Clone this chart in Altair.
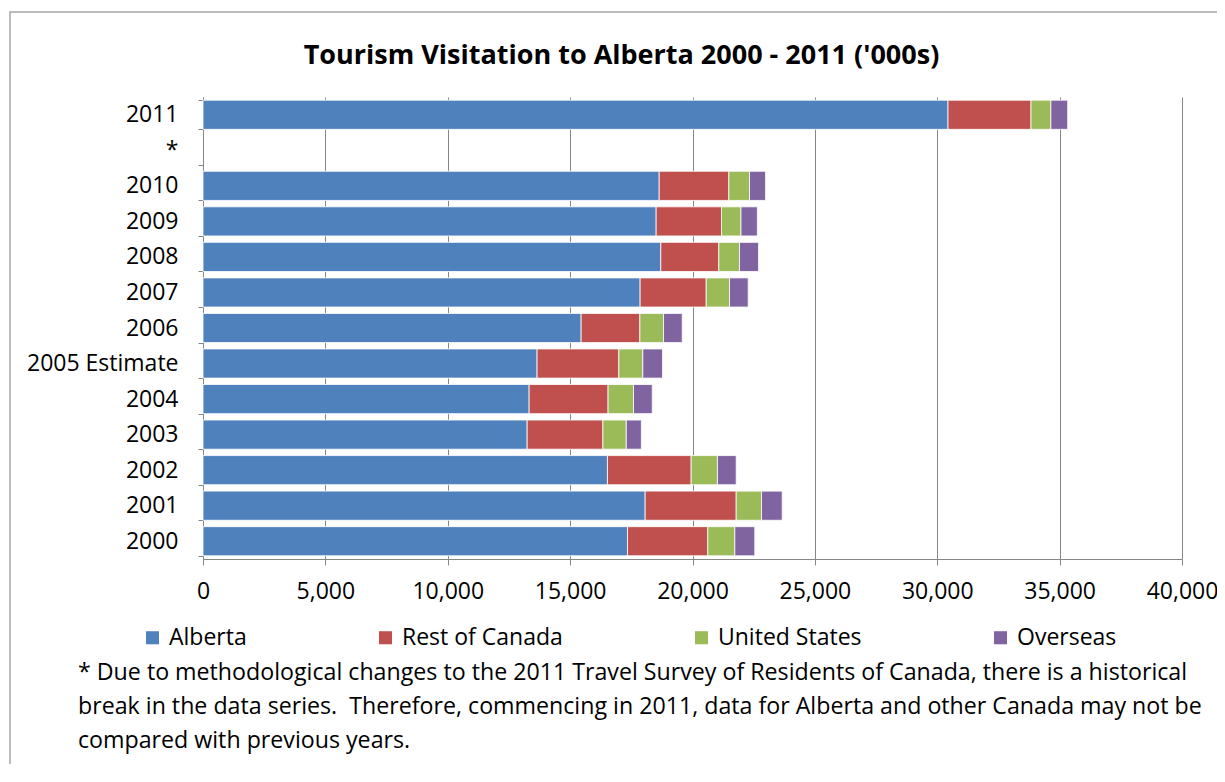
import altair as alt
import pandas as pd

categories = ["2011", "*", "2010", "2009", "2008", "2007", "2006",
              "2005 Estimate", "2004", "2003", "2002", "2001", "2000"]
series = ["Alberta", "Rest of Canada", "United States", "Overseas"]
alberta = [30440, None, 18640, 18515, 18705, 17860, 15450, 13650, 13325, 13245, 16525, 18065, 17345]
rest_of_canada = [3390, None, 2845, 2670, 2370, 2700, 2400, 3340, 3225, 3095, 3420, 3720, 3280]
united_states = [813, None, 845, 795, 845, 953, 967, 980, 1040, 955, 1075, 1035, 1105]
overseas = [687, None, 655, 670, 777, 763, 763, 805, 765, 615, 765, 845, 815]
colors = ["#4F81BD", "#C0504D", "#9BBB59", "#8064A2"]
x_ticks = [0, 5000, 10000, 15000, 20000, 25000, 30000, 35000, 40000]

title_text = "Tourism Visitation to Alberta 2000 - 2011 ('000s)"
footnote = ("* Due to methodological changes to the 2011 Travel Survey of Residents of Canada, there is a historical\n"
            "break in the data series.\u00a0 Therefore, commencing in 2011, data for Alberta and other Canada may not be\n"
            "compared with previous years.")

rows = []
for s_i, (name, vals) in enumerate(zip(series, [alberta, rest_of_canada, united_states, overseas])):
    for cat, v in zip(categories, vals):
        if v is not None:
            rows.append({"Year": cat, "Source": name, "Visits": v, "order": s_i})
df = pd.DataFrame(rows)

FONT = "Open Sans"
FS = 23
W, H = 979, 462

bars = alt.Chart(df).mark_bar(stroke="white", strokeWidth=0.8).encode(
    y=alt.Y("Year:N", sort=categories,
            scale=alt.Scale(domain=categories, paddingInner=0.18, paddingOuter=0.09),
            axis=alt.Axis(title=None, tickBand="extent", tickSize=5, tickColor="#868686",
                          domainColor="#868686", labelFontSize=FS, labelFont=FONT,
                          labelColor="black", labelPadding=20)),
    x=alt.X("Visits:Q", stack="zero",
            scale=alt.Scale(domain=[0, 40000], nice=False),
            axis=alt.Axis(title=None, values=x_ticks, format=",.0f", grid=True,
                          gridColor="#868686", gridWidth=1, tickSize=6,
                          tickColor="#868686", domainColor="#868686",
                          labelFontSize=FS, labelFont=FONT, labelColor="black",
                          labelPadding=15, labelFlush=False)),
    color=alt.Color("Source:N", scale=alt.Scale(domain=series, range=colors),
                    legend=alt.Legend(title=None, orient="none", legendX=-62, legendY=529,
                                      direction="horizontal", symbolType="square",
                                      symbolSize=170, symbolStrokeWidth=0,
                                      labelFontSize=FS, labelFont=FONT, labelColor="black",
                                      labelLimit=400, columnPadding=127, labelOffset=5,
                                      padding=0)),
    order=alt.Order("order:Q"),
)

frame = alt.Chart(alt.Data(values=[{}])).mark_rect(
    fillOpacity=0, stroke="#a6a6a6", strokeWidth=1.5
).encode(x=alt.value(-193), x2=alt.value(1040), y=alt.value(-85), y2=alt.value(720))

note = alt.Chart(alt.Data(values=[{"t": footnote}])).mark_text(
    align="left", baseline="top", lineBreak="\n", fontSize=23.2, font=FONT,
    lineHeight=34, color="black"
).encode(text="t:N", x=alt.value(-125), y=alt.value(565))

chart = alt.layer(frame, bars, note).properties(
    width=W, height=H,
    autosize=alt.AutoSizeParams(type="none"),
    padding={"left": 195, "top": 89, "right": 35, "bottom": 205},
    title=alt.Title(title_text, fontSize=27, font=FONT, fontWeight="bold",
                    color="black", anchor="middle", frame="group", dx=-71, offset=-59),
).configure_view(stroke=None)

chart.save("out.html", embed_options={"renderer": "svg", "actions": False})
